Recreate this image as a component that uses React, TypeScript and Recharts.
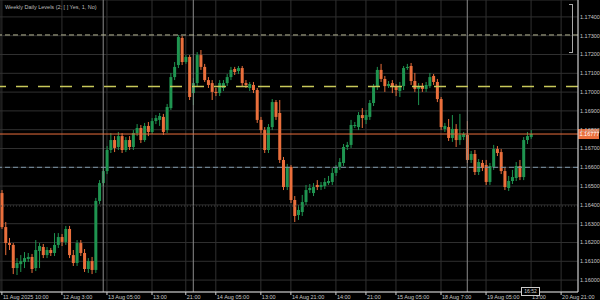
import React from "react";
import { Bar, CartesianGrid, ComposedChart, ReferenceLine, XAxis, YAxis } from "recharts";

// H1 candles
const opens = [
  1.16463, 1.16282, 1.16197, 1.16187, 1.16064, 1.16085, 1.16096, 1.16112, 1.16123, 1.16064,
  1.16155, 1.16176, 1.16133, 1.1616, 1.16144, 1.16187, 1.16229, 1.16203, 1.16272, 1.16133,
  1.16091, 1.16197, 1.16144, 1.16059, 1.16101, 1.16054, 1.16421, 1.16516, 1.1658, 1.16692,
  1.16745, 1.16708, 1.16766, 1.16692, 1.16745, 1.16708, 1.16782, 1.16809, 1.16745, 1.1682,
  1.16788, 1.16846, 1.16852, 1.16868, 1.16798, 1.16915, 1.1708, 1.17144, 1.17288, 1.1716,
  1.17187, 1.16995, 1.17048, 1.17197, 1.17134, 1.17064, 1.17048, 1.17001, 1.16995, 1.17022,
  1.17048, 1.1708, 1.17123, 1.17112, 1.17128, 1.17048, 1.17022, 1.17038, 1.17011, 1.16852,
  1.16798, 1.16692, 1.16814, 1.16947, 1.16889, 1.16639, 1.16495, 1.16602, 1.16426, 1.16346,
  1.16362, 1.16415, 1.16479, 1.16463, 1.16506, 1.16495, 1.165, 1.16516, 1.16522, 1.1657,
  1.16602, 1.16623, 1.16708, 1.16719, 1.1682, 1.16814, 1.16878, 1.16852, 1.16868, 1.16942,
  1.17027, 1.17118, 1.1707, 1.17032, 1.17048, 1.17027, 1.17006, 1.17032, 1.17128, 1.17139,
  1.17059, 1.17017, 1.17032, 1.17017, 1.17032, 1.17086, 1.17054, 1.16963, 1.16804, 1.16814,
  1.16756, 1.16804, 1.16745, 1.16761, 1.16772, 1.16639, 1.16671, 1.16575, 1.16623, 1.16612,
  1.16522, 1.16602, 1.16697, 1.16681, 1.1658, 1.1649, 1.16527, 1.16543, 1.16607, 1.16548,
  1.16745, 1.16761,
];
const highs = [
  1.16479, 1.16309, 1.16224, 1.16197, 1.16117, 1.16133, 1.16149, 1.16144, 1.16139, 1.16213,
  1.16197, 1.16192, 1.16176, 1.16171, 1.1625, 1.1625, 1.16245, 1.16288, 1.16288, 1.1616,
  1.16213, 1.16213, 1.16165, 1.16117, 1.16123, 1.16437, 1.16532, 1.16596, 1.16713, 1.16782,
  1.16766, 1.16788, 1.16782, 1.16761, 1.16766, 1.16798, 1.1683, 1.16825, 1.16836, 1.16841,
  1.16862, 1.16878, 1.16889, 1.16884, 1.16937, 1.17102, 1.1716, 1.17304, 1.17298, 1.17197,
  1.17197, 1.17075, 1.17213, 1.17224, 1.1715, 1.1708, 1.17064, 1.17022, 1.17064, 1.17064,
  1.17096, 1.17134, 1.17134, 1.17139, 1.17139, 1.17064, 1.17054, 1.17054, 1.17022, 1.16868,
  1.16814, 1.1683, 1.16963, 1.16958, 1.16958, 1.16655, 1.16618, 1.16612, 1.16447, 1.16399,
  1.16453, 1.16506, 1.16511, 1.16516, 1.16532, 1.16522, 1.16543, 1.16554, 1.16596, 1.16612,
  1.16649, 1.16724, 1.16735, 1.16852, 1.16841, 1.16894, 1.16915, 1.16905, 1.16958, 1.17043,
  1.17134, 1.1715, 1.17086, 1.17059, 1.17064, 1.17043, 1.17054, 1.17139, 1.1715, 1.17155,
  1.17102, 1.17048, 1.17048, 1.17054, 1.17102, 1.17096, 1.1707, 1.16974, 1.16836, 1.16857,
  1.16878, 1.1683, 1.16884, 1.16788, 1.16846, 1.16687, 1.16692, 1.16644, 1.16639, 1.16639,
  1.16623, 1.16719, 1.16713, 1.16697, 1.16596, 1.16554, 1.16586, 1.16628, 1.16639, 1.16761,
  1.16788, 1.16798,
];
const lows = [
  1.16272, 1.16133, 1.1616, 1.16032, 1.16027, 1.16043, 1.16064, 1.16096, 1.16038, 1.16048,
  1.16064, 1.16117, 1.16117, 1.16128, 1.16128, 1.16171, 1.16181, 1.16187, 1.16117, 1.16075,
  1.16075, 1.16128, 1.16043, 1.16038, 1.16032, 1.16038, 1.16405, 1.165, 1.16564, 1.16676,
  1.16681, 1.16692, 1.16676, 1.16681, 1.16692, 1.16692, 1.16766, 1.16729, 1.16735, 1.16766,
  1.16777, 1.1683, 1.1682, 1.16772, 1.16782, 1.16905, 1.17064, 1.17128, 1.17144, 1.1715,
  1.16958, 1.16931, 1.17032, 1.17118, 1.17054, 1.17022, 1.16958, 1.16979, 1.16979, 1.17006,
  1.17032, 1.17064, 1.17091, 1.17096, 1.17032, 1.17022, 1.17006, 1.16995, 1.16836, 1.16782,
  1.16676, 1.16676, 1.16798, 1.16852, 1.16623, 1.16479, 1.16479, 1.1641, 1.16309, 1.1632,
  1.16341, 1.16399, 1.16463, 1.16447, 1.16479, 1.16479, 1.16485, 1.16506, 1.16506, 1.16554,
  1.16586, 1.16607, 1.16692, 1.16703, 1.16809, 1.16798, 1.16809, 1.1683, 1.16852, 1.16926,
  1.17011, 1.17054, 1.17001, 1.17022, 1.16995, 1.16979, 1.16974, 1.17011, 1.17118, 1.17038,
  1.17001, 1.16931, 1.17001, 1.17001, 1.17022, 1.17038, 1.16947, 1.16798, 1.16788, 1.1674,
  1.16735, 1.16708, 1.16719, 1.16745, 1.16623, 1.16623, 1.16559, 1.16559, 1.1658, 1.16506,
  1.16506, 1.16586, 1.1666, 1.16564, 1.16479, 1.16474, 1.16511, 1.16527, 1.16532, 1.16532,
  1.16724, 1.16751,
];
const closes = [
  1.16282, 1.16197, 1.16187, 1.16064, 1.16091, 1.16101, 1.16117, 1.16123, 1.16059, 1.1616,
  1.16181, 1.16133, 1.1616, 1.16144, 1.16187, 1.16229, 1.16203, 1.16272, 1.16133, 1.16091,
  1.16197, 1.16144, 1.16059, 1.16101, 1.16054, 1.16421, 1.16516, 1.1658, 1.16692, 1.16745,
  1.16703, 1.16766, 1.16692, 1.16745, 1.16708, 1.16782, 1.16809, 1.16745, 1.1682, 1.16788,
  1.16846, 1.16862, 1.16873, 1.16788, 1.16921, 1.1708, 1.17134, 1.17293, 1.1716, 1.17187,
  1.16974, 1.17048, 1.17197, 1.17134, 1.17064, 1.17038, 1.17001, 1.16995, 1.17048, 1.17048,
  1.1708, 1.17118, 1.17107, 1.17128, 1.17048, 1.17038, 1.17043, 1.17011, 1.16852, 1.16798,
  1.16692, 1.16814, 1.16947, 1.16868, 1.16639, 1.16495, 1.16602, 1.16426, 1.16341, 1.16373,
  1.16415, 1.16479, 1.1649, 1.16495, 1.16495, 1.16506, 1.16522, 1.16527, 1.1657, 1.16596,
  1.16628, 1.16708, 1.16719, 1.16825, 1.16825, 1.16878, 1.16862, 1.16878, 1.16942, 1.17027,
  1.17118, 1.1707, 1.17032, 1.17043, 1.17027, 1.17011, 1.17027, 1.17128, 1.17134, 1.17059,
  1.17017, 1.17032, 1.17017, 1.17038, 1.1708, 1.17054, 1.16963, 1.16814, 1.1682, 1.16756,
  1.16804, 1.16745, 1.16772, 1.16777, 1.16639, 1.16671, 1.16575, 1.16628, 1.16596, 1.16522,
  1.16607, 1.16697, 1.16676, 1.1658, 1.16495, 1.16527, 1.16548, 1.16607, 1.16548, 1.16745,
  1.16766, 1.16777,
];

const emptySlots = 12; // chart shift on the right

const timeTicks = [0, 16, 28, 40, 49, 57, 69, 77, 89, 97, 105, 117, 129, 141, 149];
const timeLabels = [
  "11 Aug 2025 10:00", "12 Aug 3:00", "13 Aug 05:00", "13:00", "21:00", "14 Aug 05:00", "13:00",
  "14 Aug 21:00", "14:00", "21:00", "15 Aug 05:00", "18 Aug 7:00", "19 Aug 05:00", "13:00", "20 Aug 21:00",
];
const daySeparators = [27, 51, 124];

const priceTicks = [
  1.174, 1.173, 1.172, 1.171, 1.17, 1.169, 1.168, 1.167, 1.166, 1.165, 1.164, 1.163, 1.162, 1.161, 1.16,
];

// indicator levels
const weeklyHigh = 1.17304;
const dailyLevel = 1.1703;
const bidPrice = 1.16777;
const dailyLow = 1.166;
const weeklyLow = 1.16394;

const GREEN = "#1f9450";
const ORANGE = "#ea6f3c";
const FONT = "'Liberation Sans', Arial, sans-serif";

const data = Array.from({ length: opens.length + emptySlots }, (_, i) =>
  i < opens.length
    ? { slot: i, open: opens[i], high: highs[i], low: lows[i], close: closes[i], range: [lows[i], highs[i]] }
    : { slot: i }
);

const Candle = (props: any) => {
  const { x, y, width, height, payload } = props;
  if (!payload || payload.high == null) return null;
  const top = Math.min(y, y + height);
  const h = Math.abs(height);
  const span = payload.high - payload.low || 1e-9;
  const py = (p: number) => top + ((payload.high - p) / span) * h;
  const color = payload.close >= payload.open ? GREEN : ORANGE;
  const cx = x + width / 2;
  const b1 = py(Math.max(payload.open, payload.close));
  const b2 = py(Math.min(payload.open, payload.close));
  return (
    <g>
      <line x1={cx} x2={cx} y1={top} y2={top + h} stroke={color} strokeWidth={1} />
      <rect x={cx - 1.5} y={b1} width={3} height={Math.max(1, b2 - b1)} fill={color} />
    </g>
  );
};

const TimeTick = (props: any) => {
  const { x, payload } = props;
  const idx = timeTicks.indexOf(payload.value);
  return (
    <g>
      <line x1={x} x2={x} y1={292} y2={295} stroke="#d0d0d0" />
      <text x={x + 1} y={298.5} fontSize={5.5} fill="#c8c8c8" fontFamily={FONT}>
        {timeLabels[idx]}
      </text>
    </g>
  );
};

const PriceTag = (props: any) => {
  const vb = props.viewBox;
  if (!vb) return null;
  const x = vb.x + vb.width;
  return (
    <g>
      <rect x={x} y={vb.y - 5} width={21} height={10} fill={ORANGE} />
      <text x={x + 1.5} y={vb.y + 2} fontSize={5.5} fill="#fff" fontFamily={FONT}>
        {bidPrice.toFixed(5)}
      </text>
    </g>
  );
};

export default function App() {
  return (
    <div style={{ position: "absolute", left: 0, top: 0, width: 600, height: 300, background: "#000", fontFamily: FONT }}>
      <ComposedChart width={600} height={300} data={data} margin={{ top: 0, right: 0, bottom: 0, left: 0 }} barCategoryGap={0}>
        <CartesianGrid stroke="#303030" strokeWidth={1} />
        <XAxis
          dataKey="slot"
          type="category"
          ticks={timeTicks}
          interval={0}
          height={8}
          tickLine={false}
          axisLine={{ stroke: "#e0e0e0" }}
          tick={<TimeTick />}
        />
        <YAxis
          orientation="right"
          width={22}
          domain={[1.159366, 1.1749]}
          allowDataOverflow
          ticks={priceTicks}
          interval={0}
          tickSize={0}
          tickMargin={2}
          axisLine={{ stroke: "#e0e0e0" }}
          tick={{ fontSize: 5.5, fill: "#c8c8c8", textAnchor: "start", fontFamily: FONT }}
          tickFormatter={(v: number) => v.toFixed(5)}
        />
        {daySeparators.map((s) => (
          <ReferenceLine key={s} x={s} stroke="#8c8c8c" strokeWidth={1} />
        ))}
        <ReferenceLine y={weeklyLow} stroke="#4a4a4a" strokeDasharray="1 2" />
        <ReferenceLine y={dailyLow} stroke="#7f98aa" strokeDasharray="5 3" />
        <ReferenceLine y={dailyLevel} stroke="#c8c85a" strokeWidth={1.5} strokeDasharray="12 10" />
        <ReferenceLine y={weeklyHigh} stroke="#b4b494" strokeDasharray="5 3" />
        <Bar dataKey="range" shape={<Candle />} isAnimationActive={false} />
        <ReferenceLine y={bidPrice} stroke={ORANGE} strokeWidth={1} label={<PriceTag />} />
      </ComposedChart>
      <div style={{ position: "absolute", left: 5, top: 4, fontSize: 5.5, color: "#bdbdbd", whiteSpace: "nowrap" }}>
        Weekly Daily Levels (2; [ ]  Yes, 1, No)
      </div>
      <div style={{ position: "absolute", left: 569, top: 4, width: 3, height: 47, borderTop: "1px solid #aaa", borderRight: "1px solid #aaa", borderBottom: "1px solid #aaa" }} />
      <div style={{ position: "absolute", left: 521, top: 287, width: 17, height: 7, border: "1px solid #ccc", background: "#000", color: "#ccc", fontSize: 5, lineHeight: "7px", textAlign: "center" }}>
        16:52
      </div>
    </div>
  );
}
